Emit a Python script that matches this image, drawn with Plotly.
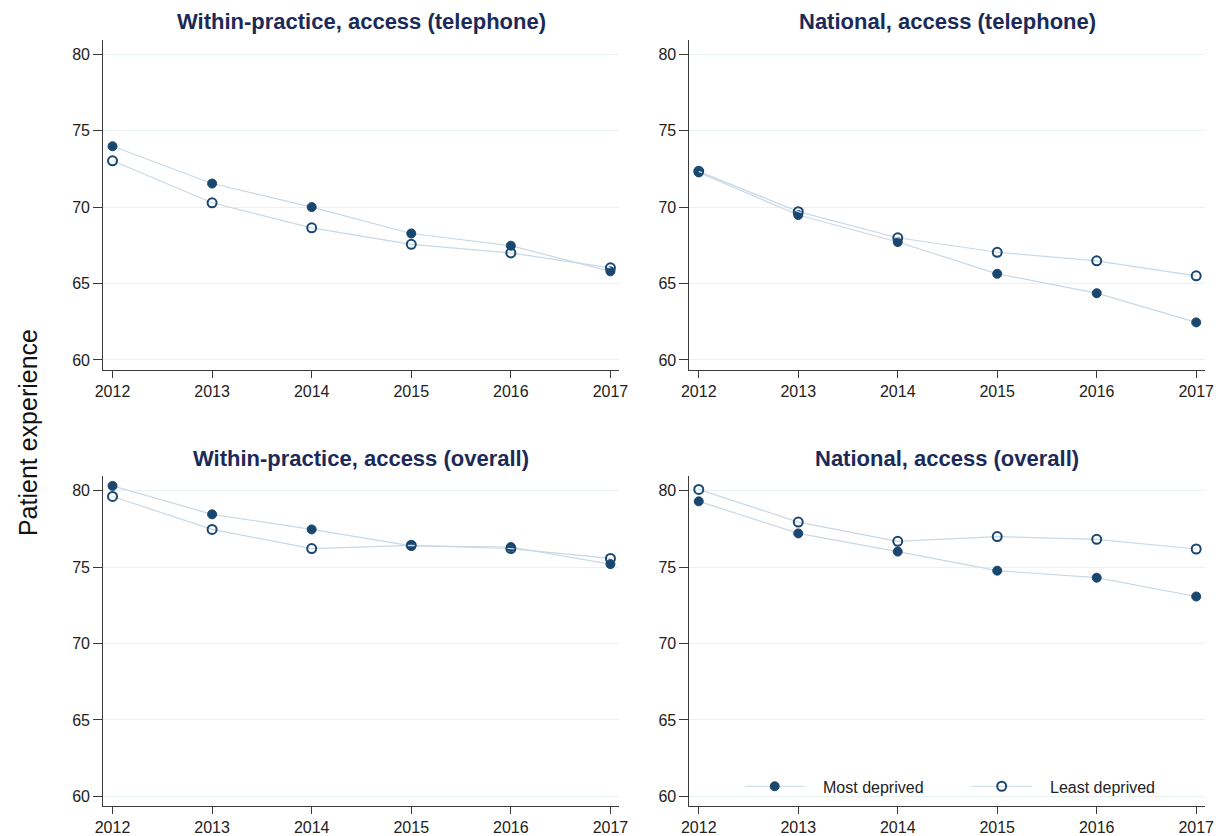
import plotly.graph_objects as go

# Survey years on the x axis
years = [2012, 2013, 2014, 2015, 2016, 2017]

# Panel titles
panel_titles = [
    "Within-practice, access (telephone)",
    "National, access (telephone)",
    "Within-practice, access (overall)",
    "National, access (overall)",
]

# Mean patient experience scores, most vs least deprived
within_tel_most = [73.99, 71.55, 70.01, 68.28, 67.48, 65.80]
within_tel_least = [73.04, 70.29, 68.65, 67.57, 67.01, 66.03]

national_tel_most = [72.28, 69.49, 67.72, 65.64, 64.37, 62.46]
national_tel_least = [72.35, 69.71, 68.00, 67.05, 66.49, 65.51]

within_all_most = [80.32, 78.46, 77.47, 76.39, 76.32, 75.20]
within_all_least = [79.63, 77.47, 76.22, 76.43, 76.22, 75.57]

national_all_most = [79.31, 77.21, 76.02, 74.77, 74.31, 73.08]
national_all_least = [80.09, 77.95, 76.69, 77.00, 76.82, 76.19]

y_ticks = [60, 65, 70, 75, 80]

NAVY = "#1a476f"
LINE = "#c9d8e4"
GRID = "#e9f1f3"
AXIS = "#3a3a3a"
TITLE = "#1c2a59"
FONT = "Liberation Sans, Arial, sans-serif"

W, H = 1225, 836

# Plot-area boxes in pixels: (left, right, top, bottom)
boxes = [
    (96.5, 620, 40, 373),
    (691, 1214, 40, 373),
    (96.5, 620, 480, 813),
    (691, 1214, 480, 813),
]

panels = [
    (within_tel_most, within_tel_least),
    (national_tel_most, national_tel_least),
    (within_all_most, within_all_least),
    (national_all_most, national_all_least),
]

fig = go.Figure()
layout_axes = {}
annotations = []

for i, ((most, least), (l, r, t, b), title) in enumerate(zip(panels, boxes, panel_titles)):
    n = "" if i == 0 else str(i + 1)
    xa, ya = "x" + n, "y" + n
    show = i == 3
    fig.add_trace(go.Scatter(
        x=years, y=most, xaxis=xa, yaxis=ya, mode="lines+markers",
        name="\u00a0\u00a0\u00a0Most deprived", legendgroup="most", showlegend=show,
        line=dict(color=LINE, width=1.2),
        marker=dict(symbol="circle", size=9, color=NAVY,
                    line=dict(color=NAVY, width=1)),
    ))
    fig.add_trace(go.Scatter(
        x=years, y=least, xaxis=xa, yaxis=ya, mode="lines+markers",
        name="\u00a0\u00a0\u00a0Least deprived", legendgroup="least", showlegend=show,
        line=dict(color=LINE, width=1.2),
        marker=dict(symbol="circle-open", size=9, color=NAVY,
                    line=dict(color=NAVY, width=2)),
    ))
    layout_axes["xaxis" + n] = dict(
        domain=[l / W, r / W], anchor=ya, range=[2011.906, 2017.09],
        tickmode="array", tickvals=years, ticktext=[str(y) for y in years],
        showgrid=False, zeroline=False,
        showline=True, linecolor=AXIS, linewidth=1,
        ticks="outside", ticklen=7, tickcolor=AXIS, tickwidth=1,
        tickfont=dict(family=FONT, size=16, color="#222222"),
    )
    layout_axes["yaxis" + n] = dict(
        domain=[(H - b) / H, (H - t) / H], anchor=xa, range=[59.35, 80.97],
        tickmode="array", tickvals=y_ticks,
        showgrid=True, gridcolor=GRID, gridwidth=1, zeroline=False,
        showline=True, linecolor=AXIS, linewidth=1,
        ticks="outside", ticklen=9, tickcolor=AXIS, tickwidth=1,
        tickfont=dict(family=FONT, size=16, color="#222222"),
    )
    annotations.append(dict(
        text="<b>" + title + "</b>", xref="paper", yref="paper",
        x=(l + r) / 2 / W, y=(H - (t - 18)) / H, xanchor="center", yanchor="middle",
        showarrow=False, font=dict(family=FONT, size=22, color=TITLE),
    ))

annotations.append(dict(
    text="Patient experience", xref="paper", yref="paper",
    x=21 / W, y=(H - 436) / H, xanchor="center", yanchor="middle",
    textangle=-90, showarrow=False,
    font=dict(family=FONT, size=25, color="#111111"),
))

fig.update_layout(
    width=W, height=H,
    margin=dict(l=0, r=0, t=0, b=0),
    paper_bgcolor="white", plot_bgcolor="white",
    showlegend=True,
    legend=dict(
        orientation="h", x=742 / W, y=(H - 793) / H, xanchor="left", yanchor="middle",
        bgcolor="rgba(255,255,255,0)", entrywidth=152, entrywidthmode="pixels",
        font=dict(family=FONT, size=16, color="#222222"),
        itemwidth=60,
    ),
    annotations=annotations,
    **layout_axes,
)

fig.write_html("out.html")
